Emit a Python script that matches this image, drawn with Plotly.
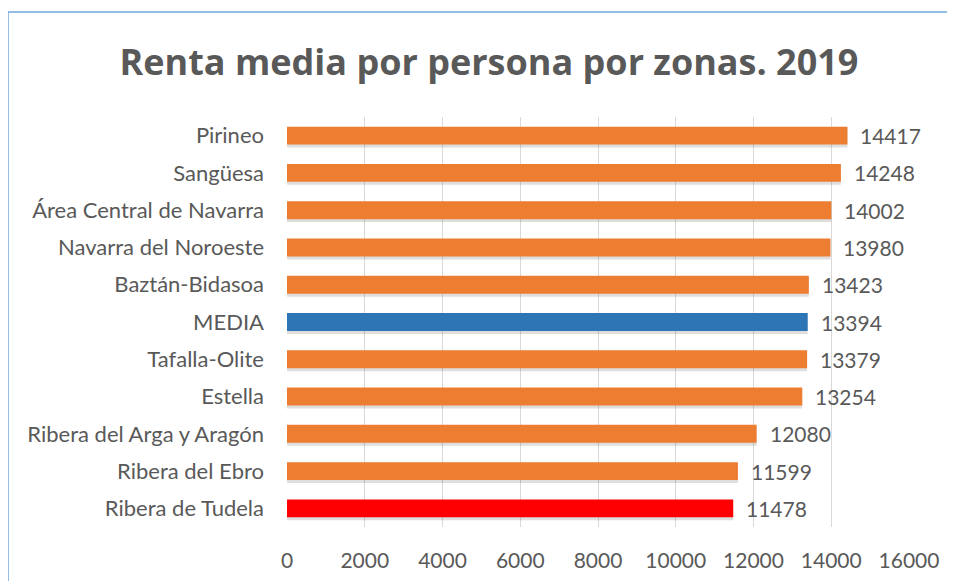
import plotly.graph_objects as go

zonas = ["Pirineo", "Sangüesa", "Área Central de Navarra", "Navarra del Noroeste",
         "Baztán-Bidasoa", "MEDIA", "Tafalla-Olite", "Estella",
         "Ribera del Arga y Aragón", "Ribera del Ebro", "Ribera de Tudela"]
renta = [14417, 14248, 14002, 13980, 13423, 13394, 13379, 13254, 12080, 11599, 11478]
colores = ["#ED7D31", "#ED7D31", "#ED7D31", "#ED7D31", "#ED7D31", "#2E75B6",
           "#ED7D31", "#ED7D31", "#ED7D31", "#ED7D31", "#FF0000"]
x_ticks = [0, 2000, 4000, 6000, 8000, 10000, 12000, 14000, 16000]

FONT = "Lato"
GRAY = "#595959"

fig = go.Figure()
# soft shadow under each bar
fig.add_trace(go.Bar(
    y=zonas, x=renta, orientation="h", width=0.54, offset=-0.22,
    marker=dict(color="rgba(0,0,0,0.13)", line=dict(width=0)),
    hoverinfo="skip", showlegend=False,
))
fig.add_trace(go.Bar(
    y=zonas, x=renta, orientation="h", width=0.48, offset=-0.24,
    marker=dict(color=colores, line=dict(width=0)),
    showlegend=False,
))

for z, v in zip(zonas, renta):
    fig.add_annotation(x=v, y=z, text=str(v), showarrow=False, xanchor="left",
                       xshift=11, yshift=0, font=dict(family=FONT, size=21, color=GRAY))

# page renders with an 8px offset; layout in figure pixels
W, H = 955, 581
L, R, T, B = 279, 901, 109, 519
def px(x):
    return (x - L) / (R - L)
def py(y):
    return (B - y) / (B - T)

fig.add_shape(type="line", xref="paper", yref="paper", x0=px(0), x1=px(1000),
              y0=py(4), y1=py(4), line=dict(color="#6FA8DC", width=1.5))
fig.add_shape(type="line", xref="paper", yref="paper", x0=px(0), x1=px(0),
              y0=py(4), y1=py(620), line=dict(color="#6FA8DC", width=1.5))

fig.update_layout(
    width=W, height=H,
    margin=dict(l=L, r=W - R, t=T, b=H - B),
    paper_bgcolor="white", plot_bgcolor="white",
    barmode="overlay",
    title=dict(text="<b>Renta media por persona por zonas. 2019</b>",
               x=481 / W, xref="container", xanchor="center",
               y=1 - 54 / H, yref="container", yanchor="middle",
               font=dict(family="Open Sans", size=36, color=GRAY)),
    xaxis=dict(range=[0, 16000], tickvals=x_ticks, ticktext=[str(t) for t in x_ticks],
               showgrid=True, gridcolor="#D9D9D9", gridwidth=1, zeroline=False,
               showline=False, ticks="", ticklabelstandoff=19,
               tickfont=dict(family=FONT, size=21, color=GRAY)),
    yaxis=dict(autorange="reversed", showgrid=False, showline=False, ticks="",
               ticklabelstandoff=22,
               tickfont=dict(family=FONT, size=22, color=GRAY)),
    font=dict(family=FONT, color=GRAY),
)

fig.write_html("out.html")
